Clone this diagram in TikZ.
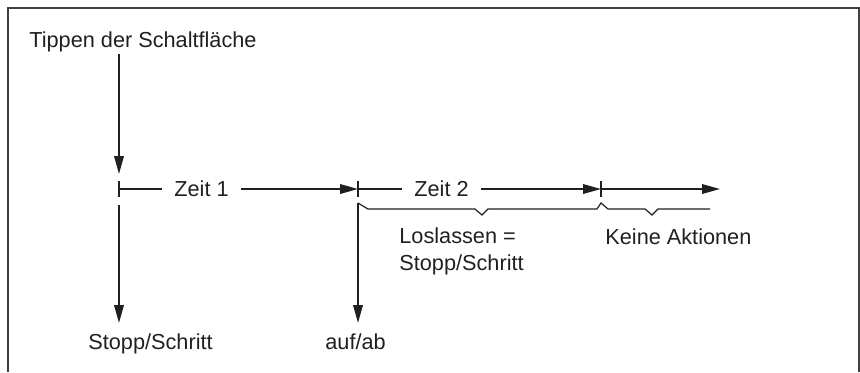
\documentclass[tikz,border=0pt]{standalone}
\usepackage{fontspec}
\setmainfont{Liberation Sans}
\usetikzlibrary{arrows.meta}
\definecolor{ink}{HTML}{231F20}
\begin{document}
\begin{tikzpicture}[x=0.5pt,y=-0.5pt,
  line/.style={line width=0.8pt, draw=ink},
  arr/.style={line, -{Triangle[length=9pt,width=4.8pt]}},
  lbl/.style={font=\fontsize{10.85}{13}\selectfont, inner sep=0pt, anchor=base west, text=ink},
  zeit/.style={font=\fontsize{10.85}{13}\selectfont, inner xsep=6pt, inner ysep=0pt, text=ink},
  brace/.style={line width=0.6pt, draw=ink},
]
\useasboundingbox (0,0) rectangle (860,372);
\draw[line width=1pt, draw=black!75] (8,372) -- (8,8) -- (859,8) -- (859,372);

% labels
\node[lbl] (tip) at (29,47) {Tippen der Schaltfläche};
\node[lbl] (stop) at (88,349) {Stopp/Schritt};
\node[lbl] (auf) at (325,349) {auf/ab};
\node[lbl, align=left] (los) at (399,270) {Loslassen =\\[0.5pt]Stopp/Schritt};
\node[lbl] (keine) at (605,244) {Keine Aktionen};

% time points
\coordinate (a) at (119,54);
\coordinate (t1) at (119,189);
\coordinate (t2) at (358,189);
\coordinate (t3) at (601,189);
\coordinate (tend) at (720,189);
\coordinate (b1) at (119,205);
\coordinate (b2) at (358,203);

% vertical arrows
\draw[arr] (a) -- (119,174);
\draw[arr] (b1) -- (119,323);
\draw[arr] (b2) -- (358,323);

% ticks
\draw[line] (119,181) -- (119,197);
\draw[line] (358,181) -- (358,197);
\draw[line] (601,181) -- (601,197);

% time spans
\node[zeit] (z1) at (201.5,189) {Zeit 1};
\node[zeit] (z2) at (441.5,189) {Zeit 2};
\draw[line] (t1) -- (z1.west);
\draw[arr] (z1.east) -- (t2);
\draw[line] (t2) -- (z2.west);
\draw[arr] (z2.east) -- (t3);
\draw[arr] (t3) -- (tend);

% braces
\draw[brace] (b2) -- (368,209) -- (475,209) -- (482,215) -- (488,209) -- (597,209)
  -- (601,203) -- (608,209) -- (645,209) -- (652,215) -- (658,209) -- (710,209);
\end{tikzpicture}
\end{document}
